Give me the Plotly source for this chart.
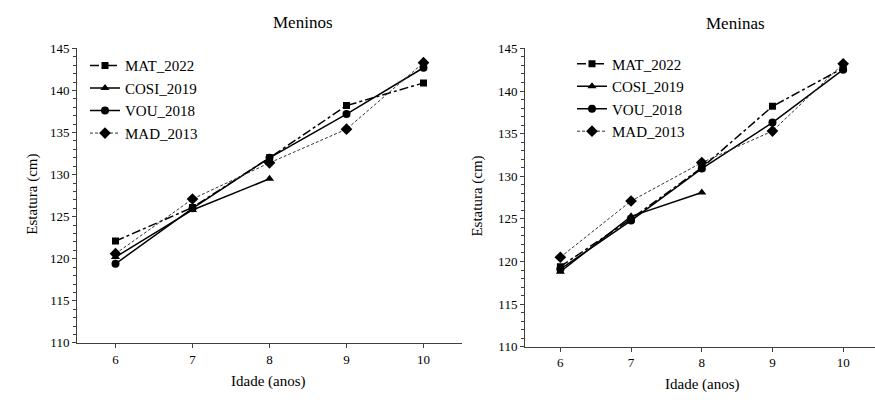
import plotly.graph_objects as go

idade = [6, 7, 8, 9, 10]
idade_cosi = [6, 7, 8]

# Meninos
men_mat_2022 = [122.1, 126.1, 132.0, 138.2, 140.9]
men_cosi_2019 = [120.2, 125.8, 129.5]
men_vou_2018 = [119.4, 126.0, 132.0, 137.2, 142.7]
men_mad_2013 = [120.6, 127.1, 131.4, 135.4, 143.3]

# Meninas
mna_mat_2022 = [119.4, 125.0, 131.0, 138.2, 142.7]
mna_cosi_2019 = [118.8, 125.3, 128.1]
mna_vou_2018 = [119.1, 124.8, 130.9, 136.3, 142.5]
mna_mad_2013 = [120.5, 127.1, 131.6, 135.3, 143.2]

series_names = ["MAT_2022", "COSI_2019", "VOU_2018", "MAD_2013"]
panel_titles = ["Meninos", "Meninas"]
x_title = "Idade (anos)"
y_title = "Estatura (cm)"

FONT = "Liberation Serif, Times New Roman, serif"
W, H = 875, 400

styles = {
    "MAT_2022": dict(line=dict(color="black", width=1.5, dash="dashdot"),
                     marker=dict(symbol="square", size=7, color="black")),
    "COSI_2019": dict(line=dict(color="black", width=1.5, dash="solid"),
                      marker=dict(symbol="triangle-up", size=8, color="black")),
    "VOU_2018": dict(line=dict(color="black", width=1.5, dash="solid"),
                     marker=dict(symbol="circle", size=8, color="black")),
    "MAD_2013": dict(line=dict(color="#333333", width=1, dash="3px,2px"),
                     marker=dict(symbol="diamond", size=9, color="black")),
}

fig = go.Figure()

panels = [
    ("x", "y", "legend", [men_mat_2022, men_cosi_2019, men_vou_2018, men_mad_2013]),
    ("x2", "y2", "legend2", [mna_mat_2022, mna_cosi_2019, mna_vou_2018, mna_mad_2013]),
]
for xa, ya, leg, data in panels:
    for name, vals in zip(series_names, data):
        xs = idade_cosi if name == "COSI_2019" else idade
        fig.add_trace(go.Scatter(
            x=xs, y=vals, name=name, mode="lines+markers",
            xaxis=xa, yaxis=ya, legend=leg, **styles[name]))

axis_common = dict(
    showline=True, linecolor="#404040", linewidth=1, showgrid=False, zeroline=False,
    ticks="outside", ticklen=4, tickcolor="#404040",
    tickfont=dict(family=FONT, size=13, color="black"),
)

fig.update_layout(
    width=W, height=H,
    margin=dict(l=0, r=0, t=0, b=0),
    paper_bgcolor="white", plot_bgcolor="white",
    font=dict(family=FONT, color="black"),
    xaxis=dict(domain=[77 / W, 462 / W], range=[5.5, 10.5], tickvals=idade,
               anchor="y", **axis_common),
    yaxis=dict(domain=[1 - 349 / H, 1 - 43 / H], range=[110, 145], dtick=5,
               anchor="x", minor=dict(dtick=1, ticks="outside", ticklen=3, tickcolor="#404040"),
               **axis_common),
    xaxis2=dict(domain=[525 / W, 1.0], range=[5.5, 10.45], tickvals=idade,
                anchor="y2", **axis_common),
    yaxis2=dict(domain=[1 - 353 / H, 1 - 43 / H], range=[110, 145], dtick=5,
                anchor="x2", minor=dict(dtick=1, ticks="outside", ticklen=3, tickcolor="#404040"),
                **axis_common),
    legend=dict(x=85 / W, y=1 - 44 / H, xanchor="left", yanchor="top",
                bgcolor="rgba(0,0,0,0)", font=dict(family=FONT, size=15, color="black")),
    legend2=dict(x=572 / W, y=1 - 42 / H, xanchor="left", yanchor="top",
                 bgcolor="rgba(0,0,0,0)", font=dict(family=FONT, size=15, color="black")),
)

annots = [
    dict(text=panel_titles[0], x=303 / W, y=1 - 16 / H, size=17, angle=0),
    dict(text=panel_titles[1], x=735 / W, y=1 - 17 / H, size=17, angle=0),
    dict(text=x_title, x=268 / W, y=1 - 389 / H, size=15, angle=0),
    dict(text=x_title, x=702 / W, y=1 - 392 / H, size=15, angle=0),
    dict(text=y_title, x=33 / W, y=1 - 195 / H, size=15, angle=-90),
    dict(text=y_title, x=478 / W, y=1 - 197 / H, size=15, angle=-90),
]
for a in annots:
    fig.add_annotation(text=a["text"], x=a["x"], y=a["y"], xref="paper", yref="paper",
                       xanchor="center", yanchor="middle", showarrow=False,
                       textangle=a["angle"], font=dict(family=FONT, size=a["size"], color="black"))

fig.write_html(
    "out.html",
    config={"displayModeBar": False},
    post_script=(
        "var de=document.documentElement, b=document.body;"
        "de.style.margin='0';de.style.padding='0';de.style.overflow='hidden';"
        "b.style.margin='0';b.style.padding='0';b.style.overflow='hidden';"
        "var gd=document.getElementById('{plot_id}');"
        "gd.style.position='absolute';gd.style.top='0px';gd.style.left='0px';"
    ),
)
